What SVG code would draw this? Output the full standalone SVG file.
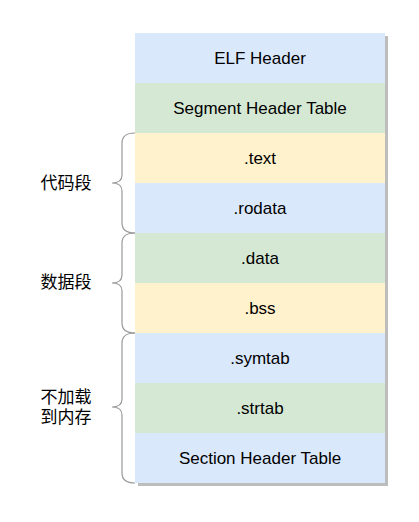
<svg xmlns="http://www.w3.org/2000/svg" width="419" height="522" viewBox="0 0 419 522">
<style>
text{font-family:"Liberation Sans",Arial,"Noto Sans CJK SC",sans-serif;font-size:17px;fill:#000;text-anchor:middle;dominant-baseline:central}
.blue{fill:#dae8fc}.green{fill:#d5e8d4}.yellow{fill:#fff2cc}
.brace{fill:none;stroke:#999;stroke-width:1.2}
</style>
<rect x="138" y="36" width="250" height="450" fill="#bdbdbd"/>
<g id="elf-header"><rect class="blue" x="135" y="33" width="250" height="50"/><text x="260" y="58">ELF Header</text></g>
<g id="segment-header-table"><rect class="green" x="135" y="83" width="250" height="50"/><text x="260" y="108">Segment Header Table</text></g>
<g id="text"><rect class="yellow" x="135" y="133" width="250" height="50"/><text x="260" y="158">.text</text></g>
<g id="rodata"><rect class="blue" x="135" y="183" width="250" height="50"/><text x="260" y="208">.rodata</text></g>
<g id="data"><rect class="green" x="135" y="233" width="250" height="50"/><text x="260" y="258">.data</text></g>
<g id="bss"><rect class="yellow" x="135" y="283" width="250" height="50"/><text x="260" y="308">.bss</text></g>
<g id="symtab"><rect class="blue" x="135" y="333" width="250" height="50"/><text x="260" y="358">.symtab</text></g>
<g id="strtab"><rect class="green" x="135" y="383" width="250" height="50"/><text x="260" y="408">.strtab</text></g>
<g id="section-header-table"><rect class="blue" x="135" y="433" width="250" height="50"/><text x="260" y="458">Section Header Table</text></g>
<g id="connectors">
<path class="brace" d="M135,133 Q122,133 122,143 L122,175 Q122,183 112,183 Q122,183 122,191 L122,223 Q122,233 135,233"/>
<path class="brace" d="M135,233 Q122,233 122,243 L122,275 Q122,283 112,283 Q122,283 122,291 L122,323 Q122,333 135,333"/>
<path class="brace" d="M135,333 Q122,333 122,343 L122,399 Q122,407 112,407 Q122,407 122,415 L122,473 Q122,483 135,483"/>
</g>
<g id="label-code"><text x="66" y="183">代码段</text></g>
<g id="label-data"><text x="66" y="282">数据段</text></g>
<g id="label-noload"><text x="66" y="397">不加载</text><text x="66" y="417">到内存</text></g>
</svg>
